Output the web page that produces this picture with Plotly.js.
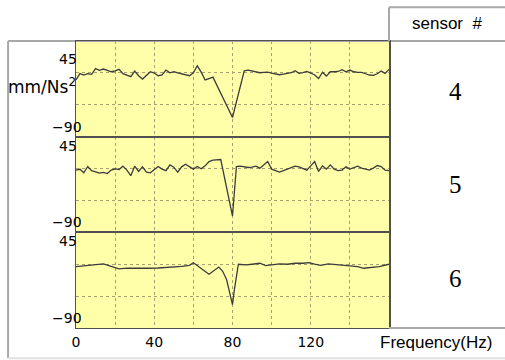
<!DOCTYPE html>
<html>
<head>
<meta charset="utf-8">
<script src="https://cdn.plot.ly/plotly-3.0.1.min.js"></script>
<style>html,body{margin:0;padding:0;background:#fff;}#chart{width:505px;height:360px;}</style>
</head>
<body>
<div id="chart"></div>
<script>
// ---- data ----
const sensors = ['4', '5', '6'];

const freq4 = [0,2,4,6,8,10,12,14,16,18,20,22,24,26,28,30,32,34,36,38,40,42,44,46,48,50,52,54,56,58,60,62,64,66,68,70,80,86,88,90,92,94,96,98,100,102,104,106,108,110,112,114,116,118,120,122,124,126,128,130,132,134,136,138,140,142,144,146,148,150,152,154,156,158,160];
const sensor4 = [-10,-1,-3,-1,-2,6,3.5,5.4,3.5,1.6,3,5,-1,-3,-5.4,2.6,-4,-8.7,-4,1.6,-0.2,-4,-3,4,0,1.6,0,-1,-3,-4,0,10,1,-10,-8,-6,-63,3,4,2.6,1.2,0.2,0.7,1.2,-0.2,-1.7,-2.6,-1.7,-0.7,0.2,3,-0.7,0.2,2,-0.2,-3,-8,1,-4.5,1.6,1.6,2,4.5,1.6,4,1.6,0.7,0.7,-1.2,-3,-3.5,-1.2,2.6,-0.7,5];

const freq5 = [0,2,4,6,8,10,12,14,16,18,20,22,24,26,28,30,32,34,36,38,40,42,44,46,48,50,52,54,56,58,60,62,64,66,68,70,72,74,80,82,84,86,88,90,92,94,96,98,100,102,104,106,108,110,112,114,116,118,120,122,124,126,128,130,132,134,136,138,140,142,144,146,148,150,152,154,156,158,160];
const sensor5 = [-2.2,-1,-6,2.9,-3,-4.6,-6.4,-5.5,-7,-2.2,-0.4,-1.3,3.4,-2.2,-10,3.4,-4,2.4,-5,-6,-2.2,2.9,-0.8,-3,5.2,2,-5,2.4,6.2,2.4,-0.8,2.9,-0.4,3.8,9.9,11.8,12.7,12.7,-67,2.9,3.4,2.4,1.5,2,3.4,0.6,5.2,9.9,-0.8,-3,-5,-3,-0.8,0.6,3.4,2.4,0,-2.2,3.8,9.9,-4,3.8,-0.8,5.2,-0.8,-3,-2.2,2.4,-0.8,1.5,3.4,0.6,-1.3,-2.2,0.6,4.3,2.9,-2.2,-3];

const freq6 = [0,4,8,12,14,18,22,26,30,36,42,48,54,58,60,68,73,75,77,80,81,83,87,90,94,97,101,104,108,112,116,119,122,125,129,133,137,141,144,147,151,155,160];
const sensor6 = [-3.3,-2.4,-1.5,0,0.5,-3,-6.5,-5.5,-5.8,-5.7,-5.3,-4.5,-3,-1.5,2,-14,-4,-10,-22,-57,-35,0,-1,0,1.4,-1.9,0,0.4,0,1.4,1.4,2.3,0,-1.5,0.4,-0.5,-1.5,-2.4,-3.3,-5.7,-4.3,-3.3,0];

const xTickVals = [0, 40, 80, 120];
const xTickText = ['0', '40', '80', '120'];
const xMinorVals = [20, 60, 100, 140];
const yGridVals = [-45, 0];
const yLabelVals = [45, -90];
const yLabelText = ['45', '\u221290'];

// ---- styles ----
const lineColor = '#3c3c3c';
const bg = '#ffffaa';
const gridColor = '#a8a070';
const borderColor = '#505050';
const frameColor = '#a8a8a8';
const tickFont = {family: 'DejaVu Sans', size: 14, color: '#000'};

const series = [[freq4, sensor4, 'y3'], [freq5, sensor5, 'y2'], [freq6, sensor6, 'y']];
const traces = series.map(([fx, fy, ya]) => ({
  x: fx, y: fy, xaxis: 'x', yaxis: ya, type: 'scatter', mode: 'lines',
  line: {color: lineColor, width: 1.3}, hoverinfo: 'skip', showlegend: false
}));

function yAxis(domain) {
  return {
    domain: domain, range: [-90, 45], tickmode: 'array', tickvals: yGridVals,
    showticklabels: false, ticks: '', showgrid: true, gridcolor: gridColor,
    griddash: 'dot', gridwidth: 1, zeroline: false, showline: true, mirror: true,
    linecolor: borderColor, linewidth: 1.5, fixedrange: true
  };
}

const axisNames = ['y3', 'y2', 'y'];
const annotations = [];
axisNames.forEach((ya, i) => {
  yLabelVals.forEach((v, j) => {
    annotations.push({
      xref: 'paper', yref: ya, x: 0, y: v, text: yLabelText[j], showarrow: false,
      xanchor: 'right', yanchor: 'middle', font: tickFont,
      xshift: j === 0 ? 3 : 8, yshift: j === 0 ? (i === 0 ? -18 : -9) : 10
    });
  });
  annotations.push({
    xref: 'paper', yref: ya + ' domain', x: 1.211, y: i === 0 ? 0.47 : (i === 2 ? 0.52 : 0.5),
    text: sensors[i], showarrow: false, xanchor: 'center', yanchor: 'middle',
    font: {family: 'Liberation Serif', size: 25, color: '#000'}
  });
});
annotations.push({
  xref: 'paper', yref: 'y3 domain', x: 0, y: 0.53, text: 'mm/Ns<sup>2</sup>',
  showarrow: false, xanchor: 'right', yanchor: 'middle', xshift: 2,
  font: {family: 'DejaVu Sans', size: 17, color: '#000'}
});
annotations.push({
  xref: 'paper', yref: 'paper', x: 1.15, y: -0.05, text: 'Frequency(Hz)',
  showarrow: false, xanchor: 'center', yanchor: 'middle',
  font: {family: 'Liberation Sans', size: 17, color: '#000'}
});
annotations.push({
  xref: 'paper', yref: 'paper', x: 1.186, y: 1.06, text: 'sensor\u00a0 #',
  showarrow: false, xanchor: 'center', yanchor: 'middle',
  font: {family: 'Liberation Sans', size: 17, color: '#000'}
});

const frame = {color: frameColor, width: 2};
const shapes = [
  {type: 'line', xref: 'paper', yref: 'paper', x0: -0.217, x1: 1.38, y0: 1, y1: 1, line: frame, layer: 'below'},
  {type: 'line', xref: 'paper', yref: 'paper', x0: -0.217, x1: -0.217, y0: 1, y1: -0.105, line: frame},
  {type: 'line', xref: 'paper', yref: 'paper', x0: -0.217, x1: 1.38, y0: -0.105, y1: -0.105, line: {color: '#e0e0e0', width: 2}},
  {type: 'line', xref: 'paper', yref: 'paper', x0: 1, x1: 1.38, y0: 0, y1: 0, line: frame},
  {type: 'line', xref: 'paper', yref: 'paper', x0: 1, x1: 1, y0: 1, y1: 1.118, line: frame},
  {type: 'line', xref: 'paper', yref: 'paper', x0: 1, x1: 1.38, y0: 1.118, y1: 1.118, line: frame}
];

const layout = {
  width: 505, height: 360,
  margin: {l: 76, r: 116, t: 41, b: 32, pad: 0},
  paper_bgcolor: '#ffffff', plot_bgcolor: bg,
  showlegend: false,
  xaxis: {
    range: [0, 160], tickmode: 'array', tickvals: xTickVals, ticktext: xTickText,
    ticks: '', tickfont: tickFont, showgrid: true, gridcolor: gridColor, griddash: 'dot',
    gridwidth: 1,
    minor: {tickmode: 'array', tickvals: xMinorVals, showgrid: true, gridcolor: gridColor, griddash: 'dot', gridwidth: 1, ticks: ''},
    zeroline: false, showline: true, mirror: 'all', linecolor: borderColor,
    linewidth: 1, anchor: 'y', fixedrange: true, ticklabelstandoff: 1
  },
  yaxis: yAxis([0, 0.3333]),
  yaxis2: yAxis([0.3333, 0.6667]),
  yaxis3: yAxis([0.6667, 1]),
  annotations: annotations,
  shapes: shapes
};

Plotly.newPlot('chart', traces, layout, {displayModeBar: false, staticPlot: true});
</script>
</body>
</html>
